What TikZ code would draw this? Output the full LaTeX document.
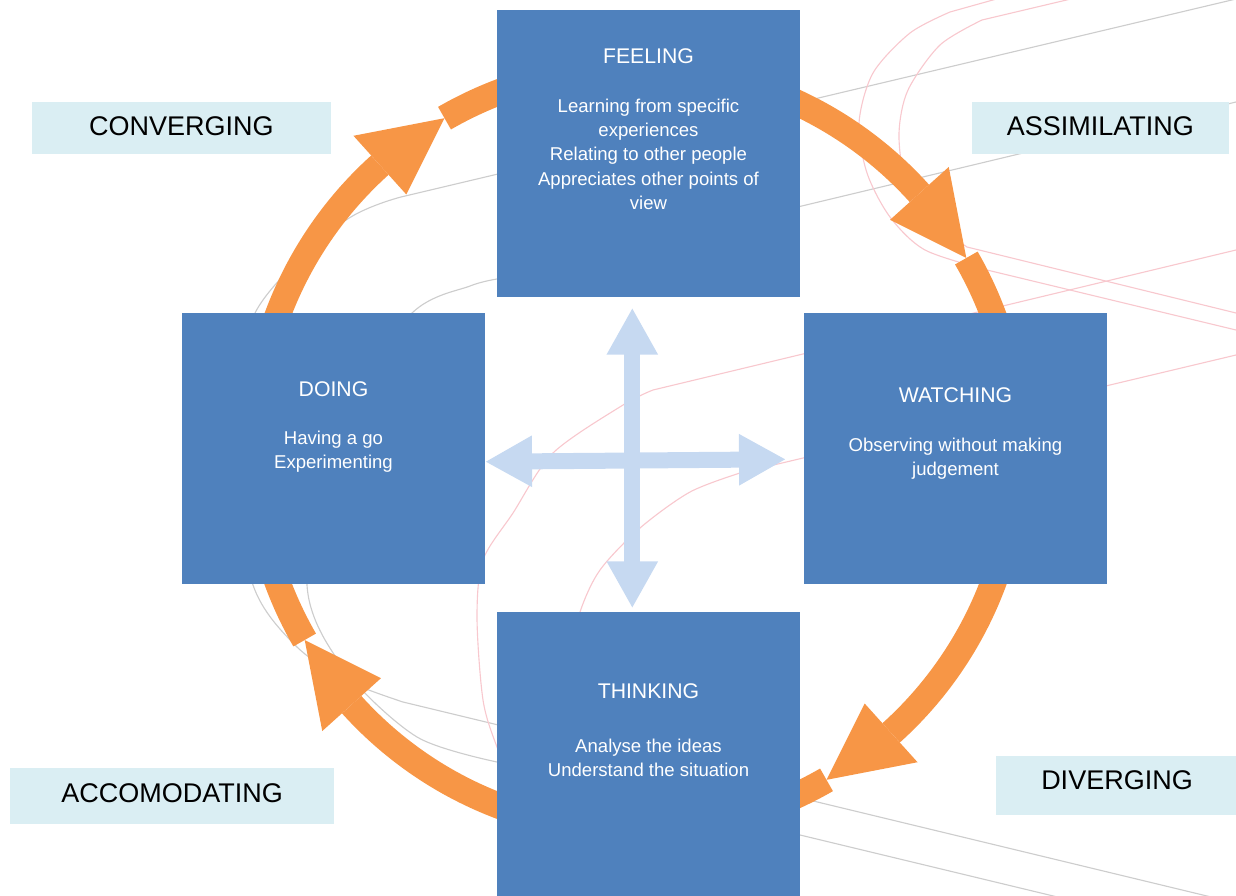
\documentclass[tikz,border=0pt]{standalone}
\usepackage{fontspec}
\setmainfont{Liberation Sans}
\usetikzlibrary{arrows.meta,positioning,calc}

\definecolor{boxblue}{HTML}{4F81BD}
\definecolor{tagblue}{HTML}{DAEEF3}
\definecolor{cycleorange}{HTML}{F79646}
\definecolor{crossblue}{HTML}{C6D9F1}
\definecolor{ghostgray}{HTML}{CDCDCD}
\definecolor{ghostpink}{HTML}{F8C8CE}

\begin{document}
\begin{tikzpicture}[
    x=0.025cm, y=0.025cm,
    stage/.style={rectangle, fill=boxblue, minimum width=7.575cm, inner sep=0pt},
    tag/.style={rectangle, fill=tagblue, inner sep=0pt, text height=13.7pt, text depth=3pt, font=\fontsize{19.2}{23}\selectfont},
    heading/.style={text=white, inner sep=0pt, font=\fontsize{15.1}{18}\selectfont},
    detail/.style={text=white, inner sep=0pt, align=center, font=\fontsize{13.2}{17.3}\selectfont},
    band/.style={draw=cycleorange, line width=0.65cm},
    cross/.style={draw=crossblue, line width=0.4cm, {Triangle[width=1.2cm,length=1.175cm]}-{Triangle[width=1.2cm,length=1.175cm]}},
    ghost/.style={line width=0.8pt}
]
\useasboundingbox (0,0) rectangle (1236,-895);

% faint background lines
\draw[ghost, ghostgray] (1236,1) -- plot[smooth] coordinates {(401,-197) (342,-223) (255,-313) (228,-450) (253,-585) (295,-645) (345,-680) (403,-702)} -- (1236,-903);
\draw[ghost, ghostgray] (1236,-102) -- plot[smooth] coordinates {(497,-279) (470,-286) (412,-313) (330,-420) (307,-585) (345,-670) (417,-737) (497,-762)} -- (1236,-940);
\draw[ghost, ghostpink] (1000,2) -- plot[smooth] coordinates {(950,-12) (910,-33) (873,-73) (859,-123) (867,-173) (890,-217) (925,-250) (987,-270)} -- (1236,-330);
\draw[ghost, ghostpink] (1075,2) -- plot[smooth] coordinates {(982,-20) (940,-45) (908,-90) (899,-133) (905,-180) (925,-215) (967,-247)} -- (1236,-313);
\draw[ghost, ghostpink] (1236,-250) -- plot[smooth] coordinates {(653,-390) (623,-405) (553,-453) (513,-513) (483,-560) (477,-617) (483,-700) (497,-747) (520,-800)};
\draw[ghost, ghostpink] (1236,-355) -- plot[smooth] coordinates {(740,-473) (690,-492) (640,-528) (600,-570) (580,-612) (570,-660)};

% Style labels
\node[tag, minimum width=7.47cm, minimum height=1.31cm] (conv) at (181.3,-128) {CONVERGING};
\node[tag, minimum width=6.43cm, minimum height=1.3cm] (assim) at (1100.3,-128.3) {ASSIMILATING};
\node[tag, minimum width=8.11cm, minimum height=1.4cm, text depth=4.6pt] (accom) at (172.2,-796.3) {ACCOMODATING};
\node[tag, minimum width=6.05cm, minimum height=1.475cm, text depth=8.3pt] (diver) at (1117,-785.5) {DIVERGING};

% Cycle arrows
\coordinate (hub) at (635.5,-449);
\foreach \a in {0,90,180,270} {
    \draw[band] ($(hub)+(\a+75:382)$) arc[start angle=\a+75, end angle=\a+42, radius=382];
    \fill[cycleorange] ($(hub)+(\a+42:421.5)$) -- ($(hub)+(\a+30:382)$) -- ($(hub)+(\a+42:342.5)$) -- cycle;
    \draw[band] ($(hub)+(\a+30:382)$) arc[start angle=\a+30, end angle=\a+12, radius=382];
}

% Stages
\node[stage, minimum height=7.175cm] (feel) at (648.5,-153.5) {};
\node[stage, minimum height=6.775cm] (doing) at (333.5,-448.5) {};
\node[stage, minimum height=6.775cm] (watch) at (955.5,-448.5) {};
\node[stage, minimum height=7.175cm] (think) at (648.5,-755.5) {};

\node[heading, below=1.35cm of feel.north, anchor=base] (feelT) {FEELING};
\node[detail, below=0.8525cm of feelT] (feelB) {Learning from specific\\experiences\\Relating to other people\\Appreciates other points of\\view};

\node[heading, below=2.0925cm of doing.north, anchor=base] (doingT) {DOING};
\node[detail, below=0.8425cm of doingT] (doingB) {Having a go\\Experimenting};

\node[heading, below=2.2325cm of watch.north, anchor=base] (watchT) {WATCHING};
\node[detail, below=0.8775cm of watchT] (watchB) {Observing without making\\judgement};

\node[heading, below=2.1575cm of think.north, anchor=base] (thinkT) {THINKING};
\node[detail, below=0.995cm of thinkT] (thinkB) {Analyse the ideas\\Understand the situation};

% Centre cross
\coordinate (upTip) at (632.3,-307.7);
\coordinate (downTip) at (632.3,-608.3);
\coordinate (leftTip) at (485,-461.7);
\coordinate (rightTip) at (786,-459.3);
\draw[cross] (upTip) -- (downTip);
\draw[cross] (leftTip) -- (rightTip);

\end{tikzpicture}
\end{document}
